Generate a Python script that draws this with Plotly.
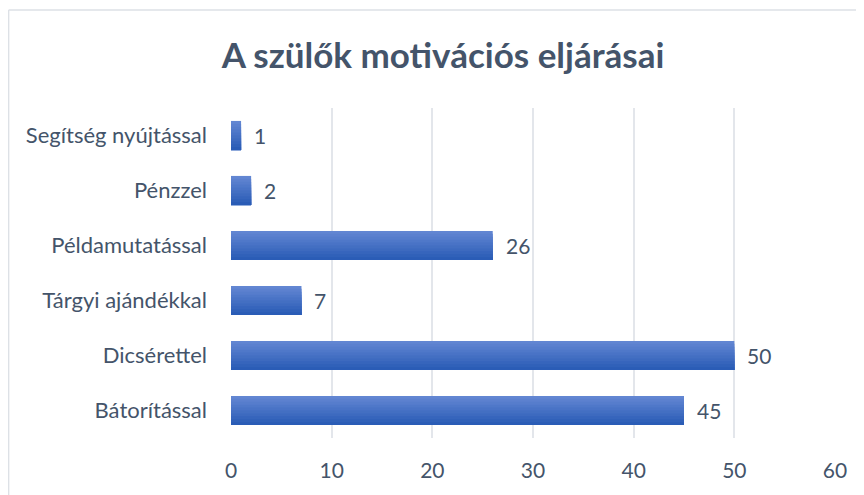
import plotly.graph_objects as go

categories = ["Segítség nyújtással", "Pénzzel", "Példamutatással",
              "Tárgyi ajándékkal", "Dicsérettel", "Bátorítással"]
values = [1, 2, 26, 7, 50, 45]
x_ticks = [0, 10, 20, 30, 40, 50, 60]
title_text = "A szülők motivációs eljárásai"

FONT = "Lato"
TXT = "#44546A"
BAR_W = 0.53
N = 10
top_rgb = (98, 134, 210)
bot_rgb = (42, 92, 182)

# page body has an 8px margin; work in reference pixels minus 8
W, H = 856, 487
OFF = 8

fig = go.Figure()
for k in range(N):
    t = k / (N - 1)
    col = tuple(round(top_rgb[i] + (bot_rgb[i] - top_rgb[i]) * t) for i in range(3))
    wk = BAR_W * (1 - k / N)
    fig.add_trace(go.Bar(
        y=categories, x=values, orientation="h",
        width=wk, offset=BAR_W / 2 - wk,
        marker=dict(color="rgb(%d,%d,%d)" % col, line=dict(width=0)),
        hoverinfo="skip" if k else None, showlegend=False,
    ))

annotations = [
    dict(x=v, y=c, xref="x", yref="y", text=str(v), showarrow=False,
         xanchor="left", xshift=11, font=dict(family=FONT, size=21, color=TXT))
    for c, v in zip(categories, values)
]

L = 231 - OFF
T = 108 - OFF
R = W - (835 - OFF)
B = H - (438 - OFF)
pw, ph = W - L - R, H - T - B
lx = (8 - OFF - L) / pw + 0.001
ty = (H - B - (10 - OFF)) / ph
shapes = [
    dict(type="line", xref="paper", yref="paper", x0=lx, x1=2, y0=ty, y1=ty,
         line=dict(color="#DDE1E6", width=1.5)),
    dict(type="line", xref="paper", yref="paper", x0=lx, x1=lx, y0=ty, y1=-1,
         line=dict(color="#DDE1E6", width=1.5)),
]

fig.update_layout(
    width=W, height=H,
    margin=dict(l=L, r=R, t=T, b=B),
    paper_bgcolor="white", plot_bgcolor="white",
    barmode="overlay",
    title=dict(text="<b>" + title_text + "</b>", xref="container", yref="container",
               x=(443 - OFF) / W, y=1 - (56 - OFF) / H, xanchor="center", yanchor="middle",
               font=dict(family=FONT, size=35, color=TXT)),
    xaxis=dict(range=[0, 60], tickvals=x_ticks, showgrid=True, gridcolor="#E3E6EB",
               gridwidth=2, zeroline=False, showline=False, ticks="",
               tickfont=dict(family=FONT, size=21, color=TXT), ticklabelstandoff=18),
    yaxis=dict(autorange="reversed", showgrid=False, showline=False, ticks="",
               tickfont=dict(family=FONT, size=22, color=TXT), ticklabelstandoff=23),
    annotations=annotations,
    shapes=shapes,
)

fig.write_html("out.html")
